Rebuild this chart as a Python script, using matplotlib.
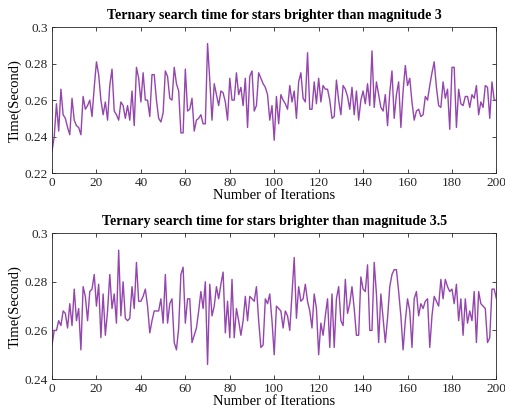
import matplotlib
matplotlib.use("Agg")
import matplotlib.pyplot as plt
import numpy as np

plt.rcParams['font.family'] = ['Liberation Serif', 'DejaVu Serif']

iterations = list(range(0, 201))

time_mag3 = [
    0.232, 0.240, 0.258, 0.243, 0.266, 0.252, 0.250, 0.245, 0.241, 0.261,
    0.249, 0.246, 0.245, 0.241, 0.262, 0.255, 0.257, 0.260, 0.251, 0.267,
    0.281, 0.274, 0.260, 0.252, 0.259, 0.249, 0.268, 0.277, 0.254, 0.252,
    0.249, 0.259, 0.257, 0.250, 0.257, 0.249, 0.265, 0.246, 0.278, 0.272,
    0.259, 0.275, 0.260, 0.260, 0.251, 0.274, 0.274, 0.260, 0.250, 0.248,
    0.253, 0.276, 0.273, 0.261, 0.260, 0.278, 0.269, 0.265, 0.242, 0.242,
    0.277, 0.254, 0.255, 0.261, 0.243, 0.249, 0.250, 0.252, 0.247, 0.247,
    0.291, 0.271, 0.249, 0.269, 0.263, 0.257, 0.265, 0.264, 0.259, 0.249,
    0.272, 0.260, 0.260, 0.275, 0.263, 0.267, 0.257, 0.272, 0.245, 0.273,
    0.276, 0.254, 0.257, 0.275, 0.272, 0.269, 0.267, 0.263, 0.249, 0.257,
    0.238, 0.262, 0.247, 0.263, 0.260, 0.258, 0.255, 0.268, 0.259, 0.265,
    0.250, 0.270, 0.275, 0.261, 0.259, 0.286, 0.255, 0.255, 0.270, 0.258,
    0.272, 0.259, 0.268, 0.266, 0.266, 0.260, 0.250, 0.251, 0.271, 0.260,
    0.252, 0.268, 0.266, 0.262, 0.255, 0.267, 0.252, 0.265, 0.249, 0.260,
    0.265, 0.258, 0.269, 0.257, 0.287, 0.256, 0.270, 0.263, 0.256, 0.254,
    0.263, 0.246, 0.264, 0.276, 0.250, 0.263, 0.270, 0.245, 0.265, 0.279,
    0.268, 0.272, 0.259, 0.249, 0.254, 0.255, 0.251, 0.252, 0.262, 0.260,
    0.268, 0.275, 0.281, 0.267, 0.257, 0.256, 0.270, 0.261, 0.266, 0.244,
    0.278, 0.278, 0.245, 0.266, 0.258, 0.257, 0.262, 0.262, 0.256, 0.263,
    0.261, 0.268, 0.252, 0.259, 0.256, 0.268, 0.267, 0.250, 0.270, 0.260,
    0.260,
]

time_mag35 = [
    0.254, 0.260, 0.260, 0.264, 0.262, 0.268, 0.267, 0.261, 0.271, 0.262,
    0.277, 0.264, 0.269, 0.252, 0.278, 0.274, 0.264, 0.276, 0.277, 0.283,
    0.270, 0.279, 0.257, 0.275, 0.258, 0.268, 0.283, 0.269, 0.275, 0.263,
    0.293, 0.266, 0.280, 0.265, 0.264, 0.265, 0.278, 0.269, 0.288, 0.272,
    0.272, 0.274, 0.277, 0.270, 0.259, 0.264, 0.268, 0.268, 0.268, 0.273,
    0.263, 0.283, 0.263, 0.271, 0.273, 0.255, 0.252, 0.261, 0.283, 0.286,
    0.263, 0.273, 0.273, 0.255, 0.258, 0.261, 0.268, 0.276, 0.269, 0.280,
    0.246, 0.279, 0.266, 0.270, 0.278, 0.273, 0.279, 0.284, 0.259, 0.272,
    0.257, 0.281, 0.257, 0.269, 0.264, 0.258, 0.264, 0.274, 0.264, 0.274,
    0.273, 0.272, 0.278, 0.264, 0.253, 0.254, 0.273, 0.271, 0.275, 0.264,
    0.250, 0.270, 0.269, 0.268, 0.261, 0.268, 0.266, 0.260, 0.275, 0.290,
    0.265, 0.278, 0.272, 0.273, 0.279, 0.272, 0.268, 0.261, 0.275, 0.269,
    0.250, 0.263, 0.258, 0.266, 0.273, 0.253, 0.275, 0.253, 0.273, 0.278,
    0.264, 0.262, 0.281, 0.267, 0.271, 0.278, 0.269, 0.258, 0.258, 0.282,
    0.277, 0.276, 0.287, 0.260, 0.260, 0.288, 0.275, 0.255, 0.275, 0.265,
    0.255, 0.265, 0.278, 0.283, 0.285, 0.285, 0.276, 0.266, 0.252, 0.264,
    0.273, 0.268, 0.253, 0.273, 0.276, 0.266, 0.271, 0.269, 0.272, 0.273,
    0.253, 0.266, 0.274, 0.272, 0.270, 0.281, 0.273, 0.281, 0.278, 0.276,
    0.277, 0.271, 0.279, 0.264, 0.273, 0.258, 0.273, 0.263, 0.268, 0.264,
    0.276, 0.255, 0.276, 0.271, 0.270, 0.269, 0.255, 0.257, 0.277, 0.277,
    0.273,
]

titles = ["Ternary search time for stars brighter than magnitude 3",
          "Ternary search time for stars brighter than magnitude 3.5"]
xticks = [0, 20, 40, 60, 80, 100, 120, 140, 160, 180, 200]
yticks_top = [0.22, 0.24, 0.26, 0.28, 0.3]
yticks_bot = [0.24, 0.26, 0.28, 0.3]
ytick_labels_top = ["0.22", "0.24", "0.26", "0.28", "0.3"]
ytick_labels_bot = ["0.24", "0.26", "0.28", "0.3"]

line_color = "#9445AE"
axis_color = "#262626"

fig = plt.figure(figsize=(5.05, 4.12), dpi=100)
ax1 = fig.add_axes([0.103, 0.580, 0.880, 0.354])
ax2 = fig.add_axes([0.103, 0.080, 0.880, 0.354])

for ax, data, title, yt, ytl, ylim in [
    (ax1, time_mag3, titles[0], yticks_top, ytick_labels_top, (0.22, 0.30)),
    (ax2, time_mag35, titles[1], yticks_bot, ytick_labels_bot, (0.24, 0.30)),
]:
    ax.plot(iterations, data, color=line_color, linewidth=1.0)
    ax.set_xlim(0, 200)
    ax.set_ylim(*ylim)
    ax.set_xticks(xticks)
    ax.set_yticks(yt)
    ax.set_yticklabels(ytl)
    ax.tick_params(direction='in', top=True, right=True, length=3,
                   width=0.6, labelsize=9.5, colors=axis_color, pad=3)
    for sp in ax.spines.values():
        sp.set_color(axis_color)
        sp.set_linewidth(0.6)
    ax.set_title(title, fontsize=10, fontweight='bold', pad=6)
    ax.set_xlabel("Number of Iterations", fontsize=10.5, labelpad=0)
    ax.set_ylabel("Time(Second)", fontsize=10.5, labelpad=2)

fig.savefig("out.png", dpi=100)
